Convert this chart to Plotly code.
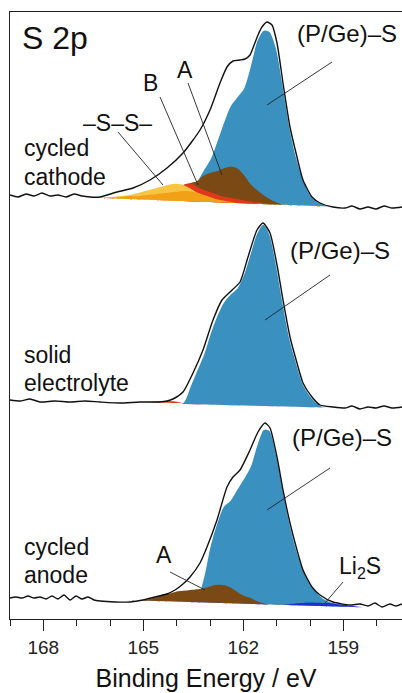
import numpy as np
import plotly.graph_objects as go

# ---------------- S 2p spectra (binding energy in eV, intensity in a.u.) ----------------
# vertical offsets used to stack the three spectra
OFFSET_CATHODE = 410
OFFSET_ELECTROLYTE = 211
OFFSET_ANODE = 13

# measured envelopes
CATHODE_EV = [169.0, 168.76, 168.52, 168.28, 168.04, 167.8, 167.56, 167.32, 167.08, 166.84,
              166.6, 166.3, 165.79, 165.31, 164.8, 164.29, 163.81, 163.3, 163.0, 162.7,
              162.49, 162.31, 162.1, 161.95, 161.8, 161.71, 161.56, 161.44, 161.29, 161.14,
              160.99, 160.81, 160.6, 160.39, 160.21, 159.94, 159.7, 159.31, 158.95, 158.74,
              158.5, 158.26, 158.02, 157.78, 157.54, 157.24]
CATHODE_I = [14, 12, 15, 13, 16, 13, 14, 12, 15, 13,
             12, 12, 17, 21, 29, 41, 56, 79, 99, 126,
             142, 148, 149, 150, 154, 161, 174, 182, 187, 184,
             166, 126, 82, 52, 29, 12, 6, 2, 1, 3,
             0, 2, 0, 3, 1, 2]

ELECTROLYTE_EV = [169.0, 168.7, 168.4, 168.1, 167.65, 167.2, 166.75, 166.3, 165.7, 165.1,
                  164.5, 164.29, 164.11, 163.81, 163.51, 163.21, 162.91, 162.64, 162.4, 162.1,
                  161.86, 161.59, 161.41, 161.2, 160.99, 160.81, 160.6, 160.39, 160.21, 159.94,
                  159.7, 159.31, 158.95, 158.74, 158.5, 158.26, 158.02, 157.78, 157.54, 157.24]
ELECTROLYTE_I = [8, 7, 9, 6, 7, 6, 7, 6, 5, 6,
                 6, 7, 9, 16, 35, 58, 88, 108, 116, 126,
                 151, 178, 185, 175, 143, 108, 71, 45, 25, 11,
                 3, 1, 0, 2, -1, 1, 0, 2, 0, 1]

ANODE_EV = [169.0, 168.82, 168.64, 168.46, 168.28, 168.1, 167.92, 167.74, 167.56, 167.38,
            167.2, 167.02, 166.84, 166.66, 166.48, 166.3, 165.85, 165.4, 165.01, 164.65,
            164.29, 164.05, 163.81, 163.6, 163.3, 163.09, 162.79, 162.49, 162.31, 162.1,
            161.8, 161.56, 161.35, 161.2, 160.99, 160.81, 160.6, 160.39, 160.21, 159.94,
            159.7, 159.31, 158.8, 158.5, 158.26, 158.05, 157.84, 157.6, 157.42, 157.24]
ANODE_I = [8, 9, 8, 10, 8, 9, 7, 10, 7, 11,
           6, 10, 7, 9, 6, 5, 4, 4, 6, 9,
           12, 16, 22, 29, 43, 59, 86, 119, 129, 136,
           156, 174, 183, 178, 149, 116, 83, 56, 36, 19,
           11, 4, 1, 2, 0, 3, -1, 2, 0, 2]

# fitted components: energy grid, background and peak heights above background
CATHODE_FIT_EV = [166.6, 166.4, 166.2, 166.0, 165.8, 165.6, 165.4, 165.2, 165.0, 164.8,
                  164.6, 164.4, 164.2, 164.0, 163.8, 163.6, 163.4, 163.2, 163.0, 162.8,
                  162.6, 162.4, 162.2, 162.0, 161.8, 161.6, 161.4, 161.2, 161.0, 160.8,
                  160.6, 160.4, 160.2, 160.0, 159.8, 159.6, 159.4]
CATHODE_BG = [11.5, 11.2, 11.0, 10.7, 10.5, 10.2, 10.0, 9.7, 9.5, 9.2,
              9.0, 8.7, 8.5, 8.2, 8.0, 7.7, 7.5, 7.2, 7.0, 6.7,
              6.5, 6.2, 6.0, 5.7, 5.5, 5.2, 5.0, 4.7, 4.5, 4.2,
              4.0, 3.7, 3.5, 3.2, 3.0, 2.8, 2.5]
CATHODE_PGES = [0, 0, 0, 0, 0, 0, 0, 0, 0, 0,
                0, 0, 0, 0, 2, 8, 20, 32, 43, 61,
                80, 97, 106, 115, 137, 163, 174, 173, 156, 119,
                78, 48, 27, 12, 5, 2, 0]
CATHODE_A = [0, 0, 0, 0, 0, 0, 0, 0, 0, 0,
             0, 0, 0, 1, 9, 18, 20, 26, 29, 31,
             34, 36, 35, 29, 20, 14, 9, 5, 2, 0,
             0, 0, 0, 0, 0, 0, 0]
CATHODE_B = [0, 0, 0, 0, 0, 0, 0, 0, 0, 0,
             0, 2, 5, 10, 16, 18, 15, 12, 10, 8,
             6, 5, 4, 3, 2, 1.5, 1, 0.5, 0, 0,
             0, 0, 0, 0, 0, 0, 0]
CATHODE_SS_1 = [0, 0, 0.5, 1, 2, 3, 4, 6, 8, 10,
                12, 14, 16, 17, 16, 13, 9, 6, 3, 1,
                0, 0, 0, 0, 0, 0, 0, 0, 0, 0,
                0, 0, 0, 0, 0, 0, 0]
CATHODE_SS_2 = [0, 0, 0, 1, 1, 2, 3, 3, 4, 5,
                6, 7, 8, 9, 10, 10, 9, 7, 5, 3,
                2, 1, 0, 0, 0, 0, 0, 0, 0, 0,
                0, 0, 0, 0, 0, 0, 0]

ELECTROLYTE_FIT_EV = [165.0, 164.8, 164.6, 164.4, 164.2, 164.0, 163.8, 163.6, 163.4, 163.2,
                      163.0, 162.8, 162.6, 162.4, 162.2, 162.0, 161.8, 161.6, 161.4, 161.2,
                      161.0, 160.8, 160.6, 160.4, 160.2, 160.0, 159.8, 159.6, 159.4]
ELECTROLYTE_BG = [5.0, 4.9, 4.7, 4.5, 4.4, 4.2, 4.0, 3.9, 3.7, 3.5,
                  3.4, 3.2, 3.0, 2.9, 2.7, 2.5, 2.4, 2.2, 2.0, 1.9,
                  1.7, 1.5, 1.4, 1.2, 1.0, 0.9, 0.7, 0.6, 0.5]
ELECTROLYTE_PGES = [0, 0, 0, 0, 0, 0, 2, 18, 34, 50,
                    71, 89, 103, 111, 117, 131, 152, 173, 182, 172,
                    141, 103, 68, 44, 23, 12, 5, 1, 0]
ELECTROLYTE_B = [0, 1, 2, 2.5, 2.5, 2, 1.5, 1, 0.5, 0,
                 0, 0, 0, 0, 0, 0, 0, 0, 0, 0,
                 0, 0, 0, 0, 0, 0, 0, 0, 0]

ANODE_FIT_EV = [165.6, 165.4, 165.2, 165.0, 164.8, 164.6, 164.4, 164.2, 164.0, 163.8,
                163.6, 163.4, 163.2, 163.0, 162.8, 162.6, 162.4, 162.2, 162.0, 161.8,
                161.6, 161.4, 161.2, 161.0, 160.8, 160.6, 160.4, 160.2, 160.0, 159.8,
                159.6, 159.4, 159.2, 159.0, 158.8, 158.6, 158.4]
ANODE_BG = [6.0, 5.8, 5.6, 5.4, 5.2, 5.0, 4.8, 4.6, 4.4, 4.2,
            4.0, 3.8, 3.6, 3.4, 3.2, 3.0, 2.8, 2.6, 2.4, 2.2,
            2.0, 1.8, 1.6, 1.4, 1.2, 1.0, 0.8, 0.6, 0.4, 0.2,
            0.0, -0.2, -0.4, -0.6, -0.8, -1.0, -1.2]
ANODE_PGES = [0, 0, 0, 0, 0, 0, 0, 0, 0, 0,
              1, 4, 25, 57, 80, 97, 103, 114, 125, 137,
              159, 175, 174, 150, 115, 82, 56, 37, 22, 14,
              8, 5, 3, 1.5, 0, 0, 0]
ANODE_A = [0, 0, 0, 0, 2, 4, 7, 8, 10, 11,
           12, 13, 14, 16, 18, 18, 16, 12, 8, 6,
           3, 1, 0, 0, 0, 0, 0, 0, 0, 0,
           0, 0, 0, 0, 0, 0, 0]
ANODE_LI2S = [0, 0, 0, 0, 0, 0, 0, 0, 0, 0,
              0, 0, 0, 0, 0, 0, 0, 0, 0, 0,
              0, 0, 0, 0, 0, 1, 2, 2.5, 3, 3,
              3, 3, 2.5, 2, 1, 0.5, 0]

# ---------------- styling ----------------
FONT = "Liberation Sans, Arial, Helvetica, sans-serif"
C_PGES = "#3A90BF"
C_A = "#7B4914"
C_B = "#E0381C"
C_SS_1 = "#F7C443"
C_SS_2 = "#F2A117"
C_LI2S = "#1E2ED2"

fig = go.Figure()


def add_component(ev, bg, height, offset, color, outline=None):
    base = np.asarray(bg, dtype=float) + offset
    top = base + np.asarray(height, dtype=float)
    fig.add_trace(go.Scatter(x=ev, y=base, mode="lines", line=dict(width=0),
                             showlegend=False, hoverinfo="skip"))
    fig.add_trace(go.Scatter(
        x=ev, y=top, mode="lines", fill="tonexty", fillcolor=color,
        line=dict(width=1.6 if outline else 0, color=outline or color,
                  shape="spline", smoothing=0.8),
        showlegend=False, hoverinfo="skip"))


def add_envelope(ev, inten, offset):
    fig.add_trace(go.Scatter(
        x=ev, y=np.asarray(inten, dtype=float) + offset, mode="lines",
        line=dict(color="#111111", width=1.4, shape="spline", smoothing=0.6),
        showlegend=False, hoverinfo="skip"))


# cycled cathode
add_component(CATHODE_FIT_EV, CATHODE_BG, CATHODE_PGES, OFFSET_CATHODE, C_PGES, outline="white")
add_component(CATHODE_FIT_EV, CATHODE_BG, CATHODE_A, OFFSET_CATHODE, C_A)
add_component(CATHODE_FIT_EV, CATHODE_BG, CATHODE_B, OFFSET_CATHODE, C_B)
add_component(CATHODE_FIT_EV, CATHODE_BG, CATHODE_SS_1, OFFSET_CATHODE, C_SS_1)
add_component(CATHODE_FIT_EV, CATHODE_BG, CATHODE_SS_2, OFFSET_CATHODE, C_SS_2)
add_envelope(CATHODE_EV, CATHODE_I, OFFSET_CATHODE)

# solid electrolyte
add_component(ELECTROLYTE_FIT_EV, ELECTROLYTE_BG, ELECTROLYTE_B, OFFSET_ELECTROLYTE, C_B)
add_component(ELECTROLYTE_FIT_EV, ELECTROLYTE_BG, ELECTROLYTE_PGES, OFFSET_ELECTROLYTE, C_PGES, outline="white")
add_envelope(ELECTROLYTE_EV, ELECTROLYTE_I, OFFSET_ELECTROLYTE)

# cycled anode
add_component(ANODE_FIT_EV, ANODE_BG, ANODE_PGES, OFFSET_ANODE, C_PGES, outline="white")
add_component(ANODE_FIT_EV, ANODE_BG, ANODE_A, OFFSET_ANODE, C_A)
add_component(ANODE_FIT_EV, ANODE_BG, ANODE_LI2S, OFFSET_ANODE, C_LI2S)
add_envelope(ANODE_EV, ANODE_I, OFFSET_ANODE)

# ---------------- labels and leader lines ----------------
labels = [
    ("S 2p", 168.7, 581, "left", 32),
    ("(P/Ge)–S", 160.45, 586, "left", 24),
    ("A", 163.75, 549, "center", 23),
    ("B", 164.8, 536, "center", 23),
    ("–S–S–", 165.79, 496, "center", 23),
    ("cycled", 168.64, 471, "left", 23),
    ("cathode", 168.64, 442, "left", 23),
    ("(P/Ge)–S", 160.66, 369, "left", 24),
    ("solid", 168.64, 264, "left", 23),
    ("electrolyte", 168.64, 236, "left", 23),
    ("(P/Ge)–S", 160.6, 182, "left", 24),
    ("A", 164.38, 64, "center", 23),
    ("Li<sub>2</sub>S", 159.19, 52, "left", 23),
    ("cycled", 168.64, 72, "left", 23),
    ("anode", 168.64, 44, "left", 23),
]
for text, x, y, anchor, size in labels:
    fig.add_annotation(x=x, y=y, xref="x", yref="y", text=text, showarrow=False,
                       xanchor=anchor, yanchor="middle",
                       font=dict(family=FONT, size=size, color="#111111"))

leaders = [
    (159.34, 557, 161.29, 514),
    (163.66, 536, 162.64, 444),
    (164.5, 522, 163.36, 434),
    (165.76, 487, 164.41, 434),
    (159.4, 344, 161.35, 299),
    (159.4, 151, 161.29, 109),
    (164.2, 47, 163.15, 29),
    (159.01, 37, 159.55, 16),
]
for x0, y0, x1, y1 in leaders:
    fig.add_shape(type="line", xref="x", yref="y", x0=x0, y0=y0, x1=x1, y1=y1,
                  line=dict(color="#222222", width=0.9), layer="above")

# ---------------- axes ----------------
fig.update_layout(
    width=402, height=693,
    margin=dict(l=10, r=0, t=12, b=74),
    paper_bgcolor="white", plot_bgcolor="white",
    font=dict(family=FONT, color="#111111"),
    showlegend=False,
    xaxis=dict(
        range=[169, 157.24], autorange=False,
        showline=True, linecolor="#222222", linewidth=1.3, mirror=True,
        showgrid=False, zeroline=False,
        tickmode="linear", tick0=159, dtick=3,
        ticks="outside", ticklen=11, tickwidth=1.3, tickcolor="#222222",
        minor=dict(tickmode="linear", tick0=159, dtick=1, ticks="outside",
                   ticklen=6, tickwidth=1.3, tickcolor="#222222"),
        tickfont=dict(family=FONT, size=19, color="#222222"),
        title=dict(text="Binding Energy / eV", standoff=12,
                   font=dict(family=FONT, size=25, color="#111111")),
    ),
    yaxis=dict(
        range=[0, 607], autorange=False,
        showline=True, linecolor="#222222", linewidth=1.3, mirror=False,
        showgrid=False, zeroline=False, showticklabels=False, ticks="",
    ),
)

fig.write_html("out.html")
